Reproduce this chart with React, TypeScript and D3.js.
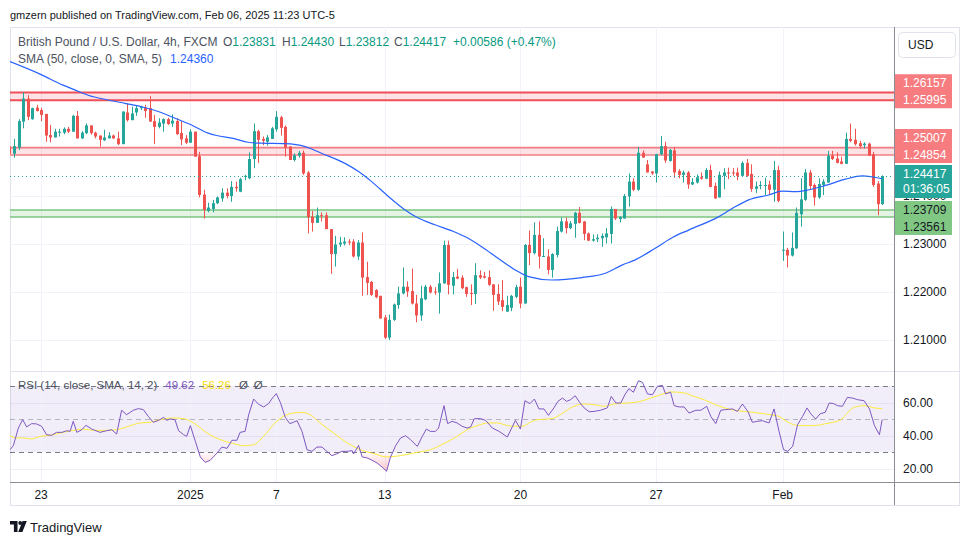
import React from "react";
import * as d3 from "d3";

// ---------------- DATA ----------------
const firstBarIndex = -1;

const opens = [
  1.2503, 1.2488, 1.2501, 1.2555, 1.2603, 1.2560, 1.2584, 1.2579, 1.2571, 1.2527,
  1.2522, 1.2532, 1.2532, 1.2540, 1.2534, 1.2567, 1.2520, 1.2531, 1.2547, 1.2532,
  1.2526, 1.2516, 1.2520, 1.2526, 1.2520, 1.2508, 1.2574, 1.2558, 1.2574, 1.2583,
  1.2584, 1.2583, 1.2556, 1.2544, 1.2551, 1.2560, 1.2551, 1.2556, 1.2531, 1.2520,
  1.2511, 1.2534, 1.2483, 1.2403, 1.2369, 1.2373, 1.2385, 1.2395, 1.2407, 1.2400,
  1.2419, 1.2409, 1.2440, 1.2437, 1.2477, 1.2535, 1.2519, 1.2513, 1.2519, 1.2539,
  1.2564, 1.2544, 1.2503, 1.2475, 1.2484, 1.2490, 1.2449, 1.2357, 1.2344, 1.2360,
  1.2360, 1.2331, 1.2279, 1.2299, 1.2301, 1.2305, 1.2305, 1.2274, 1.2303, 1.2231,
  1.2221, 1.2204, 1.2192, 1.2147, 1.2105, 1.2142, 1.2173, 1.2197, 1.2211, 1.2202,
  1.2176, 1.2151, 1.2185, 1.2211, 1.2201, 1.2199, 1.2218, 1.2298, 1.2213, 1.2232,
  1.2230, 1.2210, 1.2198, 1.2196, 1.2235, 1.2233, 1.2231, 1.2216, 1.2196, 1.2183,
  1.2159, 1.2167, 1.2190, 1.2211, 1.2176, 1.2298, 1.2281, 1.2319, 1.2274, 1.2274,
  1.2246, 1.2277, 1.2326, 1.2347, 1.2333, 1.2342, 1.2365, 1.2347, 1.2322, 1.2307,
  1.2310, 1.2312, 1.2314, 1.2321, 1.2373, 1.2352, 1.2353, 1.2399, 1.2430, 1.2413,
  1.2490, 1.2466, 1.2451, 1.2447, 1.2487, 1.2504, 1.2473, 1.2495, 1.2452, 1.2444,
  1.2449, 1.2424, 1.2428, 1.2439, 1.2436, 1.2454, 1.2421, 1.2397, 1.2442, 1.2449,
  1.2449, 1.2449, 1.2442, 1.2469, 1.2446, 1.2415, 1.2421, 1.2422, 1.2424, 1.2413,
  1.2454, 1.2286, 1.2288, 1.2276, 1.2291, 1.2362, 1.2392, 1.2449, 1.2423, 1.2397,
  1.2423, 1.2428, 1.2484, 1.2478, 1.2472, 1.2467, 1.2519, 1.2517, 1.2510, 1.2506,
  1.2509, 1.2487, 1.2426, 1.23831,
];

const highs = [
  1.2505, 1.2519, 1.2560, 1.2616, 1.2610, 1.2584, 1.2590, 1.2584, 1.2571, 1.2548,
  1.2540, 1.2540, 1.2543, 1.2544, 1.2569, 1.2577, 1.2535, 1.2551, 1.2547, 1.2534,
  1.2526, 1.2538, 1.2533, 1.2528, 1.2534, 1.2576, 1.2593, 1.2586, 1.2588, 1.2588,
  1.2590, 1.2608, 1.2569, 1.2562, 1.2562, 1.2563, 1.2570, 1.2562, 1.2556, 1.2527,
  1.2539, 1.2534, 1.2492, 1.2413, 1.2386, 1.2392, 1.2399, 1.2416, 1.2416, 1.2431,
  1.2430, 1.2438, 1.2444, 1.2491, 1.2551, 1.2538, 1.2524, 1.2527, 1.2544, 1.2577,
  1.2567, 1.2547, 1.2504, 1.2489, 1.2494, 1.2495, 1.2452, 1.2369, 1.2376, 1.2366,
  1.2366, 1.2331, 1.2317, 1.2315, 1.2314, 1.2310, 1.2310, 1.2308, 1.2324, 1.2263,
  1.2223, 1.2206, 1.2192, 1.2152, 1.2153, 1.2176, 1.2211, 1.2251, 1.2222, 1.2249,
  1.2194, 1.2213, 1.2215, 1.2215, 1.2210, 1.2241, 1.2307, 1.2307, 1.2242, 1.2248,
  1.2235, 1.2211, 1.2216, 1.2260, 1.2245, 1.2242, 1.2245, 1.2216, 1.2216, 1.2225,
  1.2192, 1.2194, 1.2215, 1.2230, 1.2300, 1.2328, 1.2345, 1.2347, 1.2312, 1.2289,
  1.2281, 1.2336, 1.2355, 1.2355, 1.2348, 1.2367, 1.2377, 1.2348, 1.2324, 1.2320,
  1.2320, 1.2322, 1.2333, 1.2378, 1.2373, 1.2358, 1.2404, 1.2447, 1.2437, 1.2502,
  1.2495, 1.2475, 1.2452, 1.2488, 1.2525, 1.2513, 1.2498, 1.2502, 1.2456, 1.2453,
  1.2452, 1.2437, 1.2445, 1.2449, 1.2458, 1.2465, 1.2428, 1.2451, 1.2458, 1.2459,
  1.2458, 1.2459, 1.2472, 1.2477, 1.2466, 1.2430, 1.2431, 1.2438, 1.2432, 1.2473,
  1.2463, 1.2326, 1.2292, 1.2324, 1.2376, 1.2437, 1.2456, 1.2454, 1.2426, 1.2437,
  1.2435, 1.2494, 1.2494, 1.2491, 1.2482, 1.2532, 1.2551, 1.2540, 1.2515, 1.2512,
  1.2511, 1.2492, 1.2431, 1.24430,
];

const lows = [
  1.2483, 1.2480, 1.2496, 1.2541, 1.2558, 1.2559, 1.2576, 1.2556, 1.2513, 1.2512,
  1.2522, 1.2524, 1.2529, 1.2531, 1.2534, 1.2520, 1.2519, 1.2529, 1.2528, 1.2520,
  1.2503, 1.2515, 1.2520, 1.2519, 1.2506, 1.2508, 1.2555, 1.2558, 1.2567, 1.2579,
  1.2563, 1.2555, 1.2508, 1.2541, 1.2534, 1.2548, 1.2544, 1.2527, 1.2506, 1.2508,
  1.2511, 1.2482, 1.2397, 1.2353, 1.2366, 1.2366, 1.2383, 1.2388, 1.2395, 1.2388,
  1.2409, 1.2408, 1.2433, 1.2435, 1.2458, 1.2469, 1.2506, 1.2505, 1.2519, 1.2534,
  1.2526, 1.2482, 1.2475, 1.2472, 1.2480, 1.2444, 1.2322, 1.2326, 1.2344, 1.2347,
  1.2331, 1.2238, 1.2253, 1.2294, 1.2297, 1.2298, 1.2272, 1.2267, 1.2192, 1.2194,
  1.2192, 1.2187, 1.2144, 1.2102, 1.2100, 1.2140, 1.2165, 1.2195, 1.2190, 1.2174,
  1.2137, 1.2140, 1.2183, 1.2197, 1.2194, 1.2155, 1.2217, 1.2195, 1.2195, 1.2227,
  1.2206, 1.2190, 1.2173, 1.2175, 1.2227, 1.2228, 1.2213, 1.2161, 1.2173, 1.2160,
  1.2159, 1.2160, 1.2187, 1.2166, 1.2176, 1.2256, 1.2278, 1.2249, 1.2274, 1.2237,
  1.2230, 1.2272, 1.2324, 1.2322, 1.2331, 1.2313, 1.2343, 1.2308, 1.2306, 1.2305,
  1.2304, 1.2294, 1.2301, 1.2301, 1.2350, 1.2345, 1.2353, 1.2378, 1.2410, 1.2411,
  1.2480, 1.2449, 1.2444, 1.2428, 1.2485, 1.2469, 1.2472, 1.2438, 1.2437, 1.2428,
  1.2415, 1.2423, 1.2426, 1.2434, 1.2435, 1.2418, 1.2394, 1.2397, 1.2414, 1.2435,
  1.2442, 1.2433, 1.2440, 1.2440, 1.2409, 1.2406, 1.2414, 1.2402, 1.2402, 1.2388,
  1.2387, 1.2265, 1.2251, 1.2274, 1.2290, 1.2336, 1.2390, 1.2413, 1.2380, 1.2394,
  1.2402, 1.2428, 1.2475, 1.2468, 1.2466, 1.2467, 1.2512, 1.2505, 1.2499, 1.2499,
  1.2484, 1.2419, 1.2360, 1.23812,
];

const closes = [
  1.2488, 1.2504, 1.2556, 1.2603, 1.2565, 1.2583, 1.2577, 1.2569, 1.2526, 1.2522,
  1.2534, 1.2534, 1.2540, 1.2534, 1.2567, 1.2520, 1.2532, 1.2547, 1.2531, 1.2524,
  1.2517, 1.2522, 1.2526, 1.2520, 1.2508, 1.2576, 1.2558, 1.2572, 1.2583, 1.2586,
  1.2577, 1.2555, 1.2544, 1.2553, 1.2560, 1.2550, 1.2557, 1.2529, 1.2518, 1.2511,
  1.2534, 1.2482, 1.2402, 1.2371, 1.2376, 1.2385, 1.2397, 1.2407, 1.2400, 1.2419,
  1.2416, 1.2435, 1.2442, 1.2477, 1.2535, 1.2517, 1.2515, 1.2522, 1.2541, 1.2565,
  1.2542, 1.2501, 1.2475, 1.2485, 1.2490, 1.2447, 1.2356, 1.2344, 1.2360, 1.2358,
  1.2331, 1.2279, 1.2299, 1.2303, 1.2305, 1.2303, 1.2274, 1.2303, 1.2230, 1.2219,
  1.2194, 1.2189, 1.2145, 1.2105, 1.2142, 1.2174, 1.2197, 1.2211, 1.2201, 1.2176,
  1.2151, 1.2187, 1.2211, 1.2199, 1.2199, 1.2218, 1.2298, 1.2215, 1.2231, 1.2228,
  1.2208, 1.2196, 1.2196, 1.2235, 1.2230, 1.2230, 1.2215, 1.2194, 1.2180, 1.2169,
  1.2173, 1.2192, 1.2210, 1.2176, 1.2298, 1.2281, 1.2319, 1.2274, 1.2275, 1.2246,
  1.2279, 1.2327, 1.2347, 1.2333, 1.2343, 1.2365, 1.2344, 1.2321, 1.2307, 1.2310,
  1.2313, 1.2317, 1.2322, 1.2373, 1.2353, 1.2356, 1.2400, 1.2430, 1.2413, 1.2490,
  1.2480, 1.2449, 1.2447, 1.2487, 1.2504, 1.2474, 1.2496, 1.2449, 1.2444, 1.2449,
  1.2424, 1.2429, 1.2439, 1.2436, 1.2454, 1.2419, 1.2395, 1.2444, 1.2449, 1.2447,
  1.2447, 1.2442, 1.2469, 1.2442, 1.2415, 1.2420, 1.2423, 1.2423, 1.2413, 1.2454,
  1.2390, 1.2288, 1.2276, 1.2292, 1.2365, 1.2393, 1.2449, 1.2421, 1.2397, 1.2425,
  1.2430, 1.2484, 1.2477, 1.2469, 1.2467, 1.2519, 1.2515, 1.2508, 1.2504, 1.2509,
  1.2484, 1.2423, 1.2383, 1.24417,
];

// SMA(50): [bar index, value]
const smaPoints = [
  [-0.89, 1.2680], [5.76, 1.2654], [10.85, 1.2631], [13.44, 1.2621], [16.38, 1.2610],
  [20.81, 1.2600], [24.5, 1.2593], [28.2, 1.2586], [31.9, 1.2576], [35.6, 1.2562],
  [39.25, 1.2548], [42.95, 1.2531], [44.8, 1.2526], [48.5, 1.2520], [51.8, 1.2512],
  [54.75, 1.2510], [59.9, 1.2509], [64.4, 1.2503], [68.0, 1.2489], [73.2, 1.2468],
  [76.2, 1.2451], [79.1, 1.2430], [82.8, 1.2399], [86.5, 1.2371], [89.4, 1.2354],
  [93.1, 1.2340], [97.2, 1.2326], [99.8, 1.2315], [103.5, 1.2294], [107.1, 1.2270],
  [110.85, 1.2246], [113.8, 1.2232], [118.95, 1.2225], [125.6, 1.2230], [130.8, 1.2239],
  [134.45, 1.2256], [137.4, 1.2267], [141.8, 1.2291], [145.9, 1.2315], [149.2, 1.2329],
  [155.9, 1.2357], [159.55, 1.2378], [162.5, 1.2392], [166.9, 1.2402], [169.9, 1.2410],
  [172.8, 1.2409], [175.8, 1.2413], [179.5, 1.2422], [183.9, 1.2435], [187.6, 1.2442],
  [192, 1.2436],
];

const rsiPoints = [
  [-0.89, 31.4], [-0.15, 33.8], [0.96, 44.5], [1.92, 49.6], [2.8, 45.2], [3.9, 47.2], [5.0, 47.0],
  [6.1, 45.6], [7.2, 40.5], [8.3, 40.1], [9.4, 41.9], [10.6, 41.9], [11.7, 42.9], [12.4, 42.5],
  [13.1, 48.6], [13.9, 41.9], [15.0, 43.5], [15.9, 46.2], [17.2, 43.9], [19.0, 41.9], [20.5, 42.9],
  [21.6, 43.5], [22.7, 40.9], [23.8, 55.3], [24.9, 52.6], [26.4, 55.3], [27.5, 56.3], [28.6, 55.7],
  [29.7, 51.6], [30.8, 48.0], [32.0, 49.2], [33.1, 51.0], [33.8, 49.2], [34.5, 50.0], [35.6, 49.6],
  [36.4, 42.9], [37.5, 40.5], [38.2, 39.5], [39.0, 46.0], [40.1, 36.5], [41.2, 27.0], [42.3, 23.7],
  [43.4, 25.0], [44.9, 29.4], [46.0, 33.0], [47.1, 32.2], [48.2, 37.1], [49.3, 37.1], [50.0, 41.9],
  [51.1, 42.5], [51.9, 52.6], [53.0, 62.1], [54.1, 58.9], [55.2, 57.3], [56.3, 59.3], [57.0, 62.1],
  [58.0, 65.4], [58.9, 60.1], [60.0, 51.0], [61.0, 47.2], [61.8, 48.0], [62.6, 49.0], [63.7, 42.5],
  [64.8, 31.4], [65.9, 30.4], [67.0, 33.0], [68.1, 33.0], [69.2, 30.4], [70.3, 27.8], [71.4, 28.9],
  [72.5, 30.4], [73.7, 30.4], [74.8, 30.8], [75.1, 28.8], [76.2, 34.0], [77.0, 27.0], [78.1, 26.4],
  [79.2, 25.0], [80.3, 23.3], [81.4, 20.9], [82.4, 18.3], [83.2, 26.4], [84.4, 33.8], [85.5, 38.5],
  [86.6, 39.9], [87.7, 37.5], [89.2, 33.4], [90.3, 39.5], [91.2, 43.9], [92.1, 42.5], [93.2, 42.5],
  [93.9, 44.5], [95.1, 58.1], [95.9, 47.2], [96.9, 48.6], [98.0, 47.6], [99.1, 45.6], [100.2, 44.5],
  [101.0, 45.2], [101.8, 50.2], [103.2, 50.2], [104.3, 49.2], [105.8, 44.5], [107.3, 42.5],
  [109.1, 39.1], [110.9, 49.2], [112.0, 43.9], [113.0, 61.1], [114.1, 59.3], [115.1, 62.1],
  [116.1, 56.1], [117.2, 56.1], [118.2, 52.2], [119.4, 56.7], [120.3, 60.7], [121.3, 62.7],
  [122.2, 60.7], [123.1, 61.7], [124.1, 64.1], [125.2, 59.7], [126.1, 56.7], [127.2, 54.4],
  [128.3, 54.6], [129.7, 55.3], [131.2, 56.7], [132.1, 63.7], [133.1, 59.7], [134.2, 59.7],
  [135.1, 64.7], [136.0, 68.4], [137.0, 66.2], [138.1, 73.2], [139.0, 72.2], [140.1, 65.2],
  [141.2, 64.7], [142.3, 69.8], [143.4, 70.4], [144.1, 65.2], [145.2, 66.2], [146.0, 58.1],
  [147.1, 57.3], [148.2, 57.3], [149.3, 53.6], [150.8, 55.3], [151.9, 55.3], [153.2, 57.7],
  [154.1, 51.6], [155.2, 47.2], [156.3, 55.3], [157.4, 55.7], [158.9, 56.1], [160.0, 54.6],
  [161.1, 59.1], [162.3, 54.6], [163.3, 48.0], [164.4, 48.6], [165.5, 49.0], [167.0, 47.6],
  [168.1, 56.1], [169.2, 42.5], [170.2, 31.4], [171.1, 30.4], [172.2, 33.4], [173.3, 46.6],
  [174.4, 51.6], [175.4, 56.7], [176.2, 53.2], [177.3, 50.0], [178.3, 53.2], [179.4, 54.0],
  [180.3, 59.7], [181.3, 59.3], [182.1, 58.1], [183.2, 57.7], [184.3, 63.1], [185.4, 62.7],
  [186.6, 61.7], [188.0, 61.1], [189.2, 56.1], [190.3, 46.0], [191.4, 40.5], [192, 49.62],
];

const rsiMaPoints = [
  [-0.9, 39.9], [0.6, 38.5], [2.1, 38.5], [3.9, 37.9], [5.8, 39.5], [8.0, 40.1], [10.2, 41.5],
  [13.1, 43.1], [15.4, 43.9], [17.6, 43.1], [20.5, 43.1], [22.7, 43.5], [24.9, 45.2], [27.9, 47.6],
  [30.1, 48.0], [32.3, 49.6], [35.3, 50.6], [37.5, 50.2], [39.7, 47.6], [42.7, 41.5], [45.6, 37.5],
  [48.6, 35.1], [50.8, 33.8], [53.0, 34.4], [55.2, 39.5], [57.4, 46.6], [59.6, 51.6], [61.8, 53.6],
  [63.7, 54.0], [65.5, 52.6], [67.7, 47.6], [70.7, 41.5], [73.7, 35.5], [76.6, 31.4], [79.6, 29.0],
  [82.5, 27.0], [85.5, 27.8], [89.2, 29.8], [92.1, 31.4], [95.1, 35.1], [98.0, 39.5], [100.2, 43.5],
  [103.2, 46.6], [104.7, 47.6], [106.9, 47.6], [109.1, 46.0], [110.9, 45.6], [112.4, 45.6],
  [114.2, 48.0], [115.7, 49.6], [117.9, 50.0], [119.4, 50.6], [121.6, 54.0], [123.8, 57.7],
  [126.1, 59.1], [128.3, 58.7], [130.5, 57.7], [132.7, 59.1], [135.6, 59.7], [137.9, 60.3],
  [140.8, 62.7], [143.0, 64.7], [145.2, 66.4], [148.2, 65.8], [150.4, 63.7], [152.6, 61.7],
  [154.8, 59.1], [157.1, 56.7], [159.3, 55.3], [161.5, 54.6], [163.7, 54.0], [165.9, 53.2],
  [168.1, 52.2], [169.2, 51.6], [170.3, 49.6], [171.8, 47.2], [174.0, 46.0], [177.0, 46.0],
  [179.2, 47.0], [181.4, 48.2], [182.9, 49.6], [184.3, 53.6], [185.8, 57.1], [188.1, 58.1],
  [190.3, 56.7], [192, 56.26],
];

const timeTickIndex = [6, 39, 58, 82, 112, 142, 170];
const timeTickLabels = ["23", "2025", "7", "13", "20", "27", "Feb"];
const priceGridTicks = [1.21, 1.22, 1.23, 1.24, 1.25, 1.26];
const priceAxisLabels = [1.21, 1.22, 1.23, 1.24];
const rsiGridTicks = [20, 40, 60];
const rsiAxisLabels = [20, 40, 60];
const rsiBands = [70, 50, 30];

const redZones = [
  [1.26157, 1.25995],
  [1.25007, 1.24854],
];
const greenZone = [1.23709, 1.23561];
const lastPrice = 1.24417;
const countdown = "01:36:05";
const legendTitle = "British Pound / U.S. Dollar, 4h, FXCM";
const legendOHLC = [
  ["O", "1.23831"],
  ["H", "1.24430"],
  ["L", "1.23812"],
  ["C", "1.24417"],
];
const legendChange = "+0.00586 (+0.47%)";
const smaTitle = "SMA (50, close, 0, SMA, 5)";
const smaLast = "1.24360";
const rsiTitle = "RSI (14, close, SMA, 14, 2)";
const rsiLast = "49.62";
const rsiMaLast = "56.26";

// ---------------- CHART ----------------
const FONT = "'Liberation Sans', Arial, Helvetica, sans-serif";
const UP = "#26a69a";
const DOWN = "#ef5350";
const TEXT = "#131722";
const GREYTXT = "#4c525e";

export default function App() {
  const W = 970;
  const H = 545;
  const left = 10;
  const right = 894;
  const frameRight = 960;
  const mainTop = 27;
  const mainBottom = 371;
  const rsiTop = 372;
  const rsiBottom = 482;
  const axisBottom = 505;

  const x = d3.scaleLinear().domain([-0.885, 194.4]).range([10, 893]);
  const y = d3.scaleLinear().domain([1.21, 1.26]).range([340, 100]);
  const yR = d3.scaleLinear().domain([30, 70]).range([452, 386]);

  const bars = opens.map((o, k) => ({
    i: firstBarIndex + k,
    o,
    h: highs[k],
    l: lows[k],
    c: closes[k],
  }));

  const smaPath = d3
    .line<number[]>()
    .x((d) => x(d[0]))
    .y((d) => y(d[1]))
    .curve(d3.curveMonotoneX)(smaPoints);
  const rsiPath = d3
    .line<number[]>()
    .x((d) => x(d[0]))
    .y((d) => yR(d[1]))(rsiPoints);
  const rsiMaPath = d3
    .line<number[]>()
    .x((d) => x(d[0]))
    .y((d) => yR(d[1]))
    .curve(d3.curveMonotoneX)(rsiMaPoints);
  const rsiLowArea = d3
    .area<number[]>()
    .x((d) => x(d[0]))
    .y0(yR(30))
    .y1((d) => yR(d[1]))(rsiPoints);
  const rsiHighArea = d3
    .area<number[]>()
    .x((d) => x(d[0]))
    .y0(yR(70))
    .y1((d) => yR(d[1]))(rsiPoints);

  const fmt5 = d3.format(".5f");
  const fmt2 = d3.format(".2f");

  const labelH = 17;
  const redLabels = redZones.map((z) => {
    const yLow = y(z[1]);
    return { top: yLow - labelH, bottom: yLow, values: z };
  });
  const gHigh = y(greenZone[0]);
  const lastY = y(lastPrice);
  const ohlcX = [223, 282, 339, 394];

  return (
    <div style={{ position: "fixed", left: 0, top: 0, width: W, height: H, background: "#fff" }}>
      <svg width={W} height={H} style={{ display: "block", fontFamily: FONT }}>
        <defs>
          <clipPath id="mainClip">
            <rect x={left} y={mainTop} width={right - left} height={mainBottom - mainTop} />
          </clipPath>
          <clipPath id="rsiClip">
            <rect x={left} y={rsiTop} width={right - left} height={rsiBottom - rsiTop} />
          </clipPath>
          <clipPath id="belowClip">
            <rect x={left} y={yR(30)} width={right - left} height={rsiBottom - yR(30)} />
          </clipPath>
          <clipPath id="aboveClip">
            <rect x={left} y={rsiTop} width={right - left} height={yR(70) - rsiTop} />
          </clipPath>
          <linearGradient id="osGrad" gradientUnits="userSpaceOnUse" x1="0" y1={yR(30)} x2="0" y2={yR(15)}>
            <stop offset="0" stopColor="#f23645" stopOpacity="0.02" />
            <stop offset="1" stopColor="#f23645" stopOpacity="0.35" />
          </linearGradient>
          <linearGradient id="obGrad" gradientUnits="userSpaceOnUse" x1="0" y1={yR(70)} x2="0" y2={yR(80)}>
            <stop offset="0" stopColor="#089981" stopOpacity="0.02" />
            <stop offset="1" stopColor="#089981" stopOpacity="0.35" />
          </linearGradient>
        </defs>

        <rect x={0} y={0} width={W} height={H} fill="#fff" />

        {/* header */}
        <text x={10} y={15} fontSize={11} fill={TEXT} dominantBaseline="central">
          gmzern published on TradingView.com, Feb 06, 2025 11:23 UTC-5
        </text>

        {/* frame */}
        <rect x={left + 0.5} y={mainTop + 0.5} width={frameRight - left - 1} height={axisBottom - mainTop} fill="none" stroke="#e0e3eb" />

        {/* grid main */}
        <g clipPath="url(#mainClip)">
          {timeTickIndex.map((t, k) => (
            <line key={"vg" + k} x1={Math.round(x(t)) + 0.5} x2={Math.round(x(t)) + 0.5} y1={mainTop} y2={mainBottom} stroke="#f0f3fa" />
          ))}
          {priceGridTicks.map((p, k) => (
            <line key={"hg" + k} x1={left} x2={right} y1={Math.round(y(p)) + 0.5} y2={Math.round(y(p)) + 0.5} stroke="#f0f3fa" />
          ))}
        </g>

        {/* zones */}
        <g clipPath="url(#mainClip)">
          <rect x={left} y={y(redZones[0][0])} width={right - left} height={y(redZones[0][1]) - y(redZones[0][0])} fill="rgba(242,54,69,0.14)" />
          <line x1={left} x2={right} y1={y(redZones[0][0])} y2={y(redZones[0][0])} stroke="#ef4f57" strokeWidth={2} />
          <line x1={left} x2={right} y1={y(redZones[0][1])} y2={y(redZones[0][1])} stroke="#ef4f57" strokeWidth={2} />
          <rect x={left} y={y(redZones[1][0])} width={right - left} height={y(redZones[1][1]) - y(redZones[1][0])} fill="rgba(242,54,69,0.14)" />
          <line x1={left} x2={right} y1={y(redZones[1][0])} y2={y(redZones[1][0])} stroke="#f37d83" strokeWidth={1.6} />
          <line x1={left} x2={right} y1={y(redZones[1][1])} y2={y(redZones[1][1])} stroke="#f37d83" strokeWidth={1.6} />
          <rect x={left} y={y(greenZone[0])} width={right - left} height={y(greenZone[1]) - y(greenZone[0])} fill="rgba(129,199,132,0.22)" />
          <line x1={left} x2={right} y1={y(greenZone[0])} y2={y(greenZone[0])} stroke="#7cc47f" strokeWidth={1.6} />
          <line x1={left} x2={right} y1={y(greenZone[1])} y2={y(greenZone[1])} stroke="#7cc47f" strokeWidth={1.6} />
        </g>

        {/* candles */}
        <g clipPath="url(#mainClip)">
          {bars.map((b) => {
            const cx = Math.round(x(b.i));
            const col = b.c >= b.o ? UP : DOWN;
            const top = y(Math.max(b.o, b.c));
            const bot = y(Math.min(b.o, b.c));
            return (
              <g key={"c" + b.i}>
                <rect x={cx} y={y(b.h)} width={1} height={Math.max(1, y(b.l) - y(b.h))} fill={col} />
                <rect x={cx - 1} y={top} width={3} height={Math.max(1, bot - top)} fill={col} />
              </g>
            );
          })}
        </g>

        {/* SMA */}
        <g clipPath="url(#mainClip)">
          <path d={smaPath || ""} fill="none" stroke="#2962ff" strokeWidth={1.2} />
        </g>

        {/* last price dotted */}
        <line x1={left} x2={right} y1={Math.round(lastY) + 0.5} y2={Math.round(lastY) + 0.5} stroke={UP} strokeDasharray="1 3" />

        {/* pane separator */}
        <line x1={left} x2={frameRight} y1={rsiTop - 0.5} y2={rsiTop - 0.5} stroke="#e0e3eb" strokeWidth={1} />

        {/* RSI pane */}
        <g clipPath="url(#rsiClip)">
          <rect x={left} y={yR(70)} width={right - left} height={yR(30) - yR(70)} fill="rgba(126,87,194,0.1)" />
          {timeTickIndex.map((t, k) => (
            <line key={"rvg" + k} x1={Math.round(x(t)) + 0.5} x2={Math.round(x(t)) + 0.5} y1={rsiTop} y2={rsiBottom} stroke="#f0f3fa" />
          ))}
          {rsiGridTicks.map((v, k) => (
            <line key={"rhg" + k} x1={left} x2={right} y1={Math.round(yR(v)) + 0.5} y2={Math.round(yR(v)) + 0.5} stroke="rgba(126,87,194,0.1)" />
          ))}
          {rsiBands.map((v, k) => (
            <line
              key={"band" + k}
              x1={left}
              x2={right}
              y1={Math.round(yR(v)) + 0.5}
              y2={Math.round(yR(v)) + 0.5}
              stroke={v === 50 ? "rgba(120,123,134,0.5)" : "#787b86"}
              strokeDasharray="5 4"
            />
          ))}
          <path d={rsiLowArea || ""} fill="url(#osGrad)" clipPath="url(#belowClip)" />
          <path d={rsiHighArea || ""} fill="url(#obGrad)" clipPath="url(#aboveClip)" />
          <path d={rsiMaPath || ""} fill="none" stroke="#fdeb3b" strokeWidth={1} />
          <path d={rsiPath || ""} fill="none" stroke="#7e57c2" strokeWidth={1} />
        </g>

        {/* axes lines */}
        <line x1={right + 0.5} x2={right + 0.5} y1={mainTop} y2={axisBottom} stroke="#8a8d96" />
        <line x1={left} x2={frameRight} y1={rsiBottom + 0.5} y2={rsiBottom + 0.5} stroke="#8a8d96" />

        {/* price axis tick labels */}
        {priceAxisLabels.map((p, k) => (
          <text key={"pt" + k} x={903} y={y(p)} fontSize={12} fill={TEXT} dominantBaseline="central">
            {fmt5(p)}
          </text>
        ))}
        {rsiAxisLabels.map((v, k) => (
          <text key={"rt" + k} x={903} y={yR(v)} fontSize={12} fill={TEXT} dominantBaseline="central">
            {fmt2(v)}
          </text>
        ))}

        {/* USD box */}
        <rect x={898.5} y={32.5} width={57} height={25} rx={4} fill="#fff" stroke="#e0e3eb" />
        <text x={908} y={45} fontSize={12} fill={TEXT} dominantBaseline="central">
          USD
        </text>

        {/* zone labels */}
        {redLabels.map((r, k) => (
          <g key={"rl" + k}>
            <rect x={right + 1} y={r.top - 9} width={57} height={r.bottom - r.top + 17} fill="#f77c80" />
            <text x={903} y={r.top} fontSize={12} fill="#fff" dominantBaseline="central">
              {fmt5(r.values[0])}
            </text>
            <text x={903} y={r.bottom} fontSize={12} fill="#fff" dominantBaseline="central">
              {fmt5(r.values[1])}
            </text>
          </g>
        ))}
        <rect x={right + 1} y={gHigh - 9} width={57} height={labelH + 17} fill="#81c784" />
        <text x={903} y={gHigh} fontSize={12} fill={TEXT} dominantBaseline="central">
          {fmt5(greenZone[0])}
        </text>
        <text x={903} y={gHigh + labelH} fontSize={12} fill={TEXT} dominantBaseline="central">
          {fmt5(greenZone[1])}
        </text>
        <rect x={right + 1} y={lastY - 11} width={57} height={33} fill={UP} />
        <text x={903} y={lastY - 2} fontSize={12} fill="#fff" dominantBaseline="central">
          {fmt5(lastPrice)}
        </text>
        <text x={903} y={lastY + 13} fontSize={12} fill="#fff" dominantBaseline="central">
          {countdown}
        </text>

        {/* time axis */}
        {timeTickIndex.map((t, k) => (
          <text key={"tt" + k} x={x(t)} y={495} fontSize={12} fill={TEXT} textAnchor="middle" dominantBaseline="central">
            {timeTickLabels[k]}
          </text>
        ))}

        {/* legends */}
        <text x={18} y={42} fontSize={12} fill={GREYTXT} dominantBaseline="central">
          {legendTitle}
        </text>
        {legendOHLC.map((d, k) => (
          <text key={"lg" + k} x={ohlcX[k]} y={42} fontSize={12} dominantBaseline="central">
            <tspan fill={GREYTXT}>{d[0]}</tspan>
            <tspan fill="#089981">{d[1]}</tspan>
          </text>
        ))}
        <text x={453} y={42} fontSize={12} fill="#089981" dominantBaseline="central">
          {legendChange}
        </text>
        <text x={18} y={59} fontSize={12} dominantBaseline="central">
          <tspan fill={GREYTXT}>{smaTitle}</tspan>
          <tspan dx={8} fill="#2962ff">{smaLast}</tspan>
        </text>

        <text x={18} y={385} fontSize={11.5} dominantBaseline="central">
          <tspan fill={GREYTXT}>{rsiTitle}</tspan>
          <tspan dx={8} fill="#7e57c2">{rsiLast}</tspan>
          <tspan dx={8} fill="#f5d90a">{rsiMaLast}</tspan>
          <tspan dx={8} fill={GREYTXT}>Ø</tspan>
          <tspan dx={6} fill={GREYTXT}>Ø</tspan>
        </text>

        {/* logo */}
        <g fill={TEXT}>
          <path d="M10 521 h7.5 v11 h-3.6 v-7.6 h-3.9 z" />
          <circle cx={20.2} cy={523} r={1.9} />
          <path d="M22.6 521 h4.2 l-4.4 11 h-4.2 z" />
        </g>
        <text x={30} y={527} fontSize={13} fill={TEXT} dominantBaseline="central">
          TradingView
        </text>
      </svg>
    </div>
  );
}
